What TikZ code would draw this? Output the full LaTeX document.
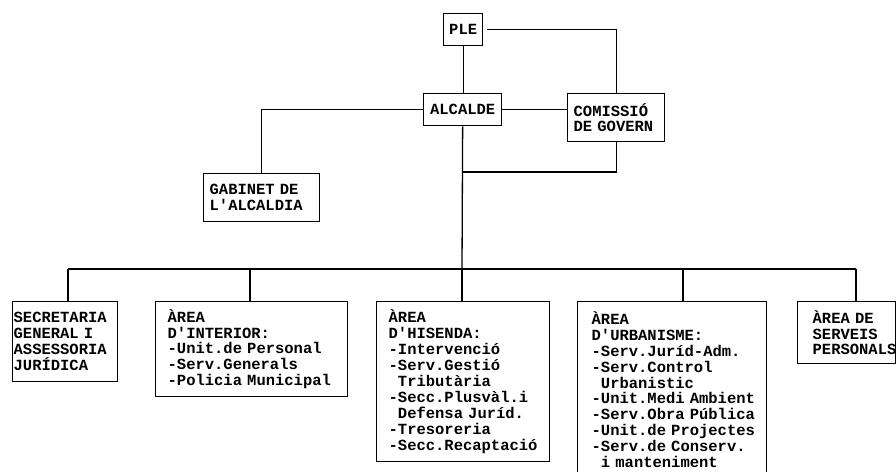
\documentclass[tikz,border=0pt]{standalone}
\usepackage{fontspec}
\setmainfont{Liberation Mono}
\newcommand\myind{\hspace*{0.6em}}
\newcommand\ql{\textquotesingle}
\begin{document}
\begin{tikzpicture}[x=1pt,y=-1pt,line width=1.3pt,
  orgtext/.style={font=\bfseries\fontsize{15.5}{15.9}\selectfont},
  cbox/.style={orgtext,draw,rectangle,anchor=north west,inner xsep=0pt,inner ysep=0pt,align=center},
  lbox/.style={orgtext,draw,rectangle,anchor=north west,inner ysep=0pt,align=left},
  conn/.style={draw,line width=1.3pt}]
\useasboundingbox (0,0) rectangle (896,471);

% boxes
\node[cbox,minimum width=39pt,minimum height=32pt] (ple) at (443,13) {PLE};
\node[cbox,minimum width=78pt,minimum height=32pt] (alcalde) at (423,93) {ALCALDE};
\node[lbox,minimum width=97pt,minimum height=48pt,inner xsep=6pt,text width=85pt] (comissio) at (567,93)
  {\mbox{COMISSIÓ}\\\mbox{DE GOVERN}};
\node[lbox,minimum width=116pt,minimum height=48pt,inner xsep=6pt,text width=104pt] (gabinet) at (203,173)
  {\mbox{GABINET DE}\\\mbox{L\ql ALCALDIA}};
\node[lbox,minimum width=105pt,minimum height=80pt,inner xsep=1pt,text width=103pt] (secr) at (12,301)
  {\mbox{SECRETARIA}\\\mbox{GENERAL I}\\\mbox{ASSESSORIA}\\\mbox{JURÍDICA}};
\node[lbox,minimum width=192pt,minimum height=95pt,inner xsep=12pt,text width=168pt] (interior) at (155,301)
  {\mbox{ÀREA}\\\mbox{D\ql INTERIOR:}\\\mbox{-Unit.de Personal}\\\mbox{-Serv.Generals}\\\mbox{-Policia Municipal}};
\node[lbox,minimum width=173pt,minimum height=160pt,inner xsep=12pt,text width=149pt] (hisenda) at (376,301)
  {\mbox{ÀREA}\\\mbox{D\ql HISENDA:}\\\mbox{-Intervenció}\\\mbox{-Serv.Gestió}\\\mbox{\myind Tributària}\\\mbox{-Secc.Plusvàl.i}\\\mbox{\myind Defensa Juríd.}\\\mbox{-Tresoreria}\\\mbox{-Secc.Recaptació}};
\node[lbox,minimum width=189pt,minimum height=176pt,inner xsep=14pt,text width=161pt] (urban) at (577,301)
  {\mbox{ÀREA}\\\mbox{D\ql URBANISME:}\\\mbox{-Serv.Juríd-Adm.}\\\mbox{-Serv.Control}\\\mbox{\myind Urbanistic}\\\mbox{-Unit.Medi Ambient}\\\mbox{-Serv.Obra Pública}\\\mbox{-Unit.de Projectes}\\\mbox{-Serv.de Conserv.}\\\mbox{\myind i manteniment}};
\node[lbox,minimum width=98pt,minimum height=62pt,inner xsep=15pt,text width=68pt] (serveis) at (797,301)
  {\mbox{ÀREA DE}\\\mbox{SERVEIS}\\\mbox{PERSONALS}};

% junction coordinates
\coordinate (j1) at (462,172);
\coordinate (b1) at (68,269);
\coordinate (b2) at (250,269);
\coordinate (b3) at (462,269);
\coordinate (b4) at (683,269);
\coordinate (b5) at (856,269);

% connectors
\draw[conn] (ple.south) -- (ple.south |- alcalde.north);
\draw[conn,shorten <=4pt] (ple.east) -| (comissio.north);
\draw[conn] (alcalde.east) -- (alcalde.east -| comissio.west);
\draw[conn] (alcalde.west) -| (gabinet.north);
\draw[conn] (alcalde.south) -- (b3);
\draw[conn] (comissio.south) |- (j1);
\draw[conn] (b1) -- (b5);
\draw[conn] (b1) -- (b1 |- secr.north);
\draw[conn] (b2) -- (b2 |- interior.north);
\draw[conn] (b3) -- (b3 |- hisenda.north);
\draw[conn] (b4) -- (b4 |- urban.north);
\draw[conn] (b5) -- (b5 |- serveis.north);
\end{tikzpicture}
\end{document}
